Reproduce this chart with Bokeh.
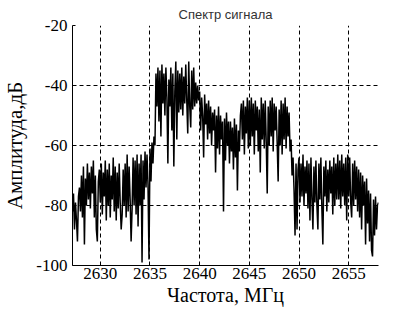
import numpy as np
from bokeh.plotting import figure
from bokeh.models import FixedTicker, Range1d, Title
from bokeh.embed import file_html
from bokeh.resources import INLINE

# frequency grid (MHz), 0.1 MHz bins starting at 2627.2
f_start = 2627.2
f_step = 0.1

# amplitude (dB), row by row (one row ~ 1 MHz)
amp = [
    -82, -76, -88, -79, -85, -92, -77, -74,                    # 2627.2-2627.9
    -82, -70, -84, -67, -93, -71, -80, -66, -78, -69,          # 2628
    -81, -67, -76, -65, -84, -70, -88, -92, -72, -68,          # 2629
    -79, -66, -83, -69, -77, -65, -85, -68, -80, -66,          # 2630
    -84, -70, -78, -64, -82, -67, -85, -69, -81, -66,          # 2631
    -79, -88, -83, -68, -80, -66, -84, -63, -82, -67,          # 2632
    -78, -92, -81, -64, -80, -65, -83, -63, -87, -66,          # 2633
    -80, -63, -99, -65, -78, -62, -74, -63, -73, -98,          # 2634
    -61, -72, -59, -66, -57, -60, -36, -47, -34, -52,          # 2635
    -35, -57, -33, -46, -36, -50, -34, -44, -66, -38,          # 2636
    -47, -34, -55, -36, -67, -42, -32, -58, -35, -49,          # 2637
    -36, -48, -34, -50, -37, -46, -33, -45, -56, -32,          # 2638
    -47, -54, -35, -48, -34, -47, -39, -46, -40, -45,          # 2639
    -42, -55, -44, -50, -64, -43, -53, -46, -58, -45,          # 2640
    -56, -47, -60, -49, -55, -48, -69, -50, -61, -47,          # 2641
    -63, -50, -58, -52, -82, -51, -65, -49, -60, -52,          # 2642
    -66, -52, -62, -54, -68, -51, -64, -53, -75, -55,          # 2643
    -62, -50, -46, -58, -45, -63, -47, -56, -44, -61,          # 2644
    -45, -60, -44, -57, -46, -63, -45, -55, -47, -62,          # 2645
    -48, -69, -44, -58, -46, -61, -45, -59, -76, -47,          # 2646
    -60, -45, -57, -44, -62, -46, -55, -47, -59, -72,          # 2647
    -48, -60, -45, -63, -46, -58, -44, -61, -47, -57,          # 2648
    -49, -62, -58, -70, -64, -75, -90, -66, -88, -68,          # 2649
    -64, -79, -66, -77, -63, -80, -67, -76, -65, -81,          # 2650
    -66, -85, -64, -78, -88, -67, -79, -65, -80, -88,          # 2651
    -66, -78, -64, -81, -93, -67, -77, -65, -82, -68,          # 2652
    -79, -65, -76, -67, -83, -64, -80, -66, -78, -63,          # 2653
    -78, -65, -81, -63, -77, -66, -80, -64, -85, -63,          # 2654
    -77, -64, -79, -84, -66, -80, -65, -78, -67, -82,          # 2655
    -68, -84, -69, -88, -70, -80, -72, -93, -71, -86,          # 2656
    -75, -92, -76, -95, -97, -78, -90, -77, -88, -80,          # 2657
    -79,                                                        # 2658.0
]

x_ticks = [2630, 2635, 2640, 2645, 2650, 2655]
y_ticks = [-100, -80, -60, -40, -20]
y_tick_labels = {t: "%d" % t for t in y_ticks}

title_text = "Спектр сигнала"
x_label_text = "Частота, МГц"
y_label_text = "Амплитуда,дБ"

freq = f_start + f_step * np.arange(len(amp))

p = figure(width=417, height=313, output_backend="svg", toolbar_location=None,
           x_range=Range1d(2627.2, 2658.0), y_range=Range1d(-100, -20),
           min_border_left=71, min_border_right=39, min_border_top=25,
           min_border_bottom=48)
p.title = Title(text=title_text, align="center", text_font="Liberation Sans",
                text_font_size="13px", text_font_style="normal", text_color="#333333",
                standoff=7)

p.line(freq, amp, line_color="black", line_width=1.5)

p.outline_line_color = None
for ax in (p.xaxis[0], p.yaxis[0]):
    ax.axis_line_color = "black"
    ax.major_tick_in = 3
    ax.major_tick_out = 0
    ax.minor_tick_line_color = None
    ax.major_label_text_font = "Liberation Serif"
    ax.major_label_text_color = "black"
    ax.major_label_text_font_size = "17px"
    ax.axis_label_text_font = "Liberation Serif"
    ax.axis_label_text_font_style = "normal"
    ax.axis_label_text_color = "black"

p.xaxis.axis_label_text_font_size = "20px"
p.yaxis.axis_label_text_font_size = "21px"
p.xaxis.ticker = FixedTicker(ticks=x_ticks)
p.yaxis.ticker = FixedTicker(ticks=y_ticks)
p.yaxis.major_label_overrides = y_tick_labels
p.xaxis.axis_label = x_label_text
p.yaxis.axis_label = y_label_text
p.xaxis.major_label_standoff = 2
p.yaxis.major_label_standoff = 5
p.xaxis.axis_label_standoff = 2
p.yaxis.axis_label_standoff = 6

for g in (p.xgrid[0], p.ygrid[0]):
    g.grid_line_color = "black"
    g.grid_line_dash = "4 3"
    g.grid_line_width = 1
p.xgrid.ticker = FixedTicker(ticks=x_ticks)
p.ygrid.ticker = FixedTicker(ticks=y_ticks)

open("out.html", "w").write(file_html(p, INLINE))
